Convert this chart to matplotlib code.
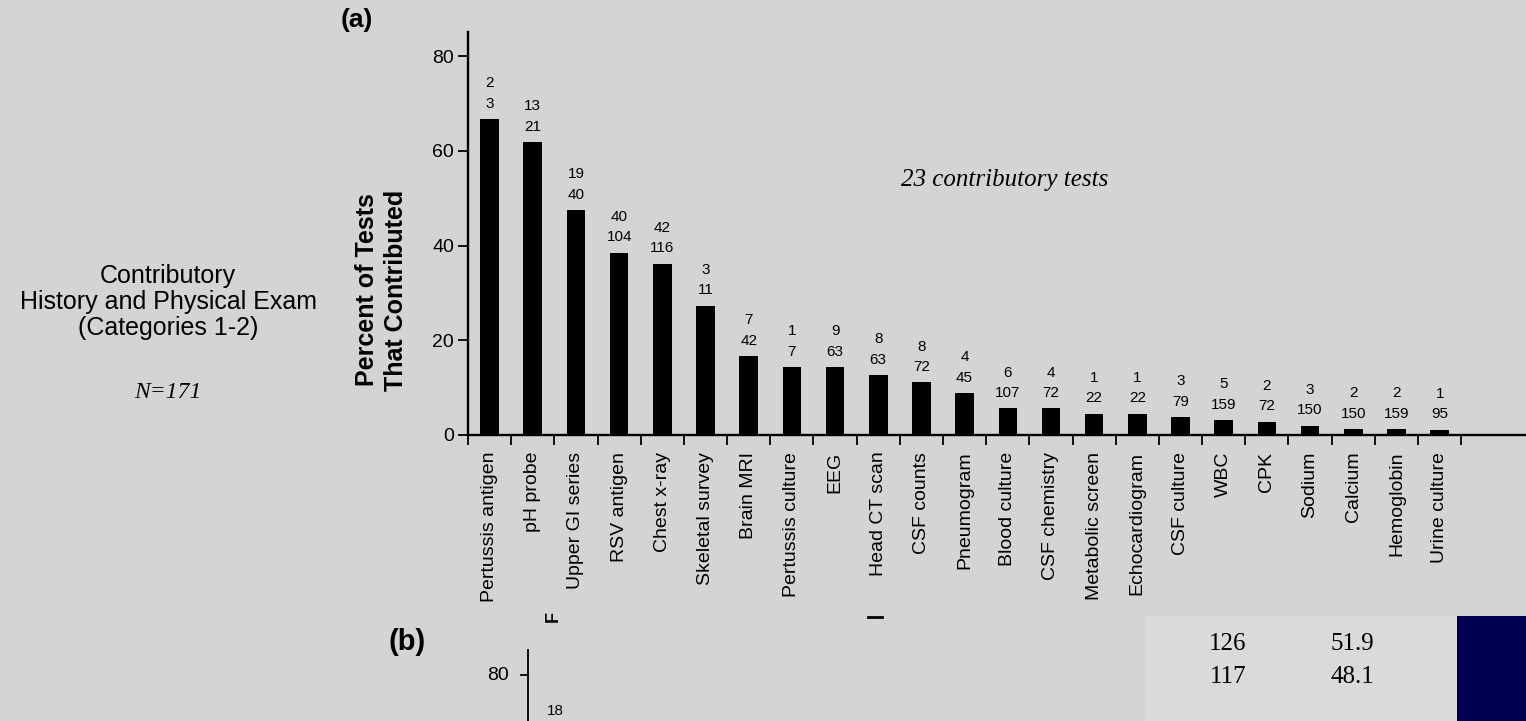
import matplotlib
matplotlib.use("Agg")
import matplotlib.pyplot as plt
from matplotlib.patches import Rectangle
from matplotlib.lines import Line2D

# ---------------- data ----------------
tests = ["Pertussis antigen", "pH probe", "Upper GI series", "RSV antigen",
         "Chest x-ray", "Skeletal survey", "Brain MRI", "Pertussis culture",
         "EEG", "Head CT scan", "CSF counts", "Pneumogram", "Blood culture",
         "CSF chemistry", "Metabolic screen", "Echocardiogram", "CSF culture",
         "WBC", "CPK", "Sodium", "Calcium", "Hemoglobin", "Urine culture"]
percent = [66.7, 61.9, 47.5, 38.5, 36.2, 27.3, 16.7, 14.3, 14.3, 12.7, 11.1,
           8.9, 5.6, 5.6, 4.5, 4.5, 3.8, 3.1, 2.8, 2.0, 1.3, 1.3, 1.1]
contributed = ["2", "13", "19", "40", "42", "3", "7", "1", "9", "8", "8", "4",
               "6", "4", "1", "1", "3", "5", "2", "3", "2", "2", "1"]
performed = ["3", "21", "40", "104", "116", "11", "42", "7", "63", "63", "72",
             "45", "107", "72", "22", "22", "79", "159", "72", "150", "150",
             "159", "95"]
y_ticks = [0, 20, 40, 60, 80]
table_counts = ["126", "117"]
table_pcts = ["51.9", "48.1"]

W, H = 1526, 721
BG = "#d4d4d4"
fig = plt.figure(figsize=(W / 100, H / 100), dpi=100, facecolor=BG)

def fx(px):
    return px / W

def fy(py):
    return 1 - py / H

sans = ["Liberation Sans", "DejaVu Sans"]
serif = ["Liberation Serif", "DejaVu Serif"]

# ---------------- panel (a) ----------------
ax = fig.add_axes([fx(468), fy(435), fx(1526) - fx(468), fy(32) - fy(435)])
ax.set_facecolor("none")
x = list(range(len(tests)))
ax.bar(x, percent, width=0.43, color="black", zorder=3)
ax.set_xlim(-0.5, 24.0)
ax.set_ylim(0, 85.1)

for sp in ["top", "right"]:
    ax.spines[sp].set_visible(False)
for sp in ["left", "bottom"]:
    ax.spines[sp].set_linewidth(1.7)

ax.set_yticks(y_ticks)
ax.set_yticklabels([str(v) for v in y_ticks], family=sans, fontsize=14)
ax.tick_params(axis="y", direction="out", length=7, width=1.3, pad=3)

ax.set_xticks(x)
ax.set_xticklabels(tests, rotation=90, family=sans, fontsize=14, va="top")
ax.tick_params(axis="x", which="major", length=0, pad=12)
ax.set_xticks([i - 0.5 for i in range(len(tests) + 1)], minor=True)
ax.tick_params(axis="x", which="minor", direction="out", length=7, width=1.3)

for xi, p, c, n in zip(x, percent, contributed, performed):
    ax.annotate(f"{c}\n{n}", (xi, p), xytext=(0, 6), textcoords="offset points",
                ha="center", va="bottom", fontsize=11, family=sans,
                linespacing=1.6)

ax.set_ylabel("Percent of Tests\nThat Contributed", family=sans,
              fontsize=18, fontweight="bold", linespacing=1.25)
ax.yaxis.set_label_coords((408 - 468) / 1058, (435 - 290) / 403)

fig.text(fx(1005), fy(180), "23 contributory tests", family=serif,
         style="italic", fontsize=18, ha="center", va="center")

fig.text(fx(357), fy(20), "(a)", family=sans, fontweight="bold",
         fontsize=19, ha="center", va="center")

# left description
fig.text(fx(168), fy(302), "Contributory\nHistory and Physical Exam\n(Categories 1-2)",
         family=sans, fontsize=18, ha="center", va="center", linespacing=1.12)
fig.text(fx(168), fy(393), "N=171", family=serif, style="italic",
         fontsize=17, ha="center", va="center")

# ---------------- fragment of panel (b) ----------------
fig.text(fx(407), fy(642), "(b)", family=sans, fontweight="bold",
         fontsize=21, ha="center", va="center")
fig.text(fx(498), fy(675), "80", family=sans, fontsize=14, ha="center",
         va="center")
fig.text(fx(555), fy(711), "18", family=sans, fontsize=11, ha="center",
         va="center")
fig.text(fx(553), fy(616), "F", family=sans, fontsize=13, fontweight="bold",
         rotation=90, ha="center", va="center")
fig.add_artist(Line2D([fx(528), fx(528)], [fy(650), 0], color="black",
                      lw=1.3, transform=fig.transFigure))
fig.add_artist(Line2D([fx(521), fx(528)], [fy(675), fy(675)], color="black",
                      lw=1.3, transform=fig.transFigure))
fig.add_artist(Line2D([fx(868), fx(882)], [fy(617), fy(617)], color="black",
                      lw=2.0, transform=fig.transFigure))

# table fragment
fig.add_artist(Rectangle((fx(1145), 0), fx(1457) - fx(1145), fy(616),
                         transform=fig.transFigure, facecolor="#dadada",
                         edgecolor="none", zorder=0))
fig.add_artist(Rectangle((fx(1457), 0), 1 - fx(1457), fy(616),
                         transform=fig.transFigure, facecolor="#000050",
                         edgecolor="none", zorder=0))
for i, (cnt, pct) in enumerate(zip(table_counts, table_pcts)):
    yy = 644 + i * 33
    fig.text(fx(1228), fy(yy), cnt, family=serif, fontsize=18, ha="center",
             va="center")
    fig.text(fx(1352), fy(yy), pct, family=serif, fontsize=18, ha="center",
             va="center")

fig.savefig("out.png", dpi=100, facecolor=BG)
